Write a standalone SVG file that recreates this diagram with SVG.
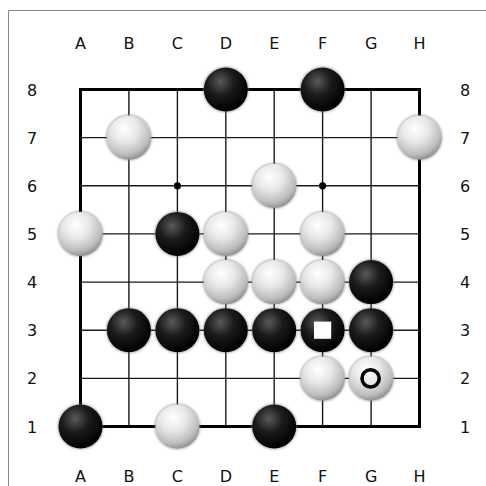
<svg xmlns="http://www.w3.org/2000/svg" width="486" height="486" viewBox="0 0 486 486">
<defs>
<radialGradient id="gb" cx="0.38" cy="0.32" r="0.68">
<stop offset="0" stop-color="#5a5a5a"/>
<stop offset="0.45" stop-color="#1c1c1c"/>
<stop offset="1" stop-color="#000"/>
</radialGradient>
<radialGradient id="gw" cx="0.4" cy="0.3" r="0.75">
<stop offset="0" stop-color="#ffffff"/>
<stop offset="0.4" stop-color="#e8e8e8"/>
<stop offset="0.78" stop-color="#bcbcbc"/>
<stop offset="1" stop-color="#858585"/>
</radialGradient>
<filter id="sh" x="-20%" y="-20%" width="140%" height="140%">
<feGaussianBlur stdDeviation="0.9"/>
</filter>
</defs>
<style>
.lbl{font-family:"DejaVu Sans","Liberation Sans",sans-serif;font-size:16px;fill:#111;text-anchor:middle}
.ln{stroke:#1a1a1a;stroke-width:1.4;fill:none}
.bd{stroke:#000;stroke-width:3;fill:none}
.halo{fill:#777;opacity:0.55;filter:url(#sh)}
.b{fill:url(#gb)}
.w{fill:url(#gw)}
</style>
<rect width="486" height="486" fill="#fff"/>
<path d="M8.5,486 V10.5 H486" stroke="#8a8a8a" stroke-width="1" fill="none"/>
<g id="labels">
<text class="lbl" x="80.5" y="49">A</text>
<text class="lbl" x="128.9" y="49">B</text>
<text class="lbl" x="177.4" y="49">C</text>
<text class="lbl" x="225.8" y="49">D</text>
<text class="lbl" x="274.2" y="49">E</text>
<text class="lbl" x="322.6" y="49">F</text>
<text class="lbl" x="371.1" y="49">G</text>
<text class="lbl" x="419.5" y="49">H</text>
<text class="lbl" x="80.5" y="481.5">A</text>
<text class="lbl" x="128.9" y="481.5">B</text>
<text class="lbl" x="177.4" y="481.5">C</text>
<text class="lbl" x="225.8" y="481.5">D</text>
<text class="lbl" x="274.2" y="481.5">E</text>
<text class="lbl" x="322.6" y="481.5">F</text>
<text class="lbl" x="371.1" y="481.5">G</text>
<text class="lbl" x="419.5" y="481.5">H</text>
<text class="lbl" x="32" y="95.5">8</text>
<text class="lbl" x="32" y="143.6">7</text>
<text class="lbl" x="32" y="191.8">6</text>
<text class="lbl" x="32" y="239.9">5</text>
<text class="lbl" x="32" y="288.1">4</text>
<text class="lbl" x="32" y="336.2">3</text>
<text class="lbl" x="32" y="384.4">2</text>
<text class="lbl" x="32" y="432.5">1</text>
<text class="lbl" x="465" y="95.5">8</text>
<text class="lbl" x="465" y="143.6">7</text>
<text class="lbl" x="465" y="191.8">6</text>
<text class="lbl" x="465" y="239.9">5</text>
<text class="lbl" x="465" y="288.1">4</text>
<text class="lbl" x="465" y="336.2">3</text>
<text class="lbl" x="465" y="384.4">2</text>
<text class="lbl" x="465" y="432.5">1</text>
</g>
<g id="connectors">
<path class="ln" d="M128.9,89.5V426.5M177.4,89.5V426.5M225.8,89.5V426.5M274.2,89.5V426.5M322.6,89.5V426.5M371.1,89.5V426.5"/>
<path class="ln" d="M80.5,137.6H419.5M80.5,185.8H419.5M80.5,233.9H419.5M80.5,282.1H419.5M80.5,330.2H419.5M80.5,378.4H419.5"/>
<rect class="bd" x="80.5" y="89.5" width="339" height="337"/>
<circle cx="177.4" cy="185.8" r="3.6" fill="#000"/>
<circle cx="322.6" cy="185.8" r="3.6" fill="#000"/>
</g>
<g id="D8"><circle class="halo" cx="225.8" cy="89.5" r="23"/><circle class="b" cx="225.8" cy="89.5" r="22"/></g>
<g id="F8"><circle class="halo" cx="322.6" cy="89.5" r="23"/><circle class="b" cx="322.6" cy="89.5" r="22"/></g>
<g id="B7"><circle class="halo" cx="128.9" cy="137.6" r="23"/><circle class="w" cx="128.9" cy="137.6" r="22"/></g>
<g id="H7"><circle class="halo" cx="419.5" cy="137.6" r="23"/><circle class="w" cx="419.5" cy="137.6" r="22"/></g>
<g id="E6"><circle class="halo" cx="274.2" cy="185.8" r="23"/><circle class="w" cx="274.2" cy="185.8" r="22"/></g>
<g id="A5"><circle class="halo" cx="80.5" cy="233.9" r="23"/><circle class="w" cx="80.5" cy="233.9" r="22"/></g>
<g id="C5"><circle class="halo" cx="177.4" cy="233.9" r="23"/><circle class="b" cx="177.4" cy="233.9" r="22"/></g>
<g id="D5"><circle class="halo" cx="225.8" cy="233.9" r="23"/><circle class="w" cx="225.8" cy="233.9" r="22"/></g>
<g id="F5"><circle class="halo" cx="322.6" cy="233.9" r="23"/><circle class="w" cx="322.6" cy="233.9" r="22"/></g>
<g id="D4"><circle class="halo" cx="225.8" cy="282.1" r="23"/><circle class="w" cx="225.8" cy="282.1" r="22"/></g>
<g id="E4"><circle class="halo" cx="274.2" cy="282.1" r="23"/><circle class="w" cx="274.2" cy="282.1" r="22"/></g>
<g id="F4"><circle class="halo" cx="322.6" cy="282.1" r="23"/><circle class="w" cx="322.6" cy="282.1" r="22"/></g>
<g id="G4"><circle class="halo" cx="371.1" cy="282.1" r="23"/><circle class="b" cx="371.1" cy="282.1" r="22"/></g>
<g id="B3"><circle class="halo" cx="128.9" cy="330.2" r="23"/><circle class="b" cx="128.9" cy="330.2" r="22"/></g>
<g id="C3"><circle class="halo" cx="177.4" cy="330.2" r="23"/><circle class="b" cx="177.4" cy="330.2" r="22"/></g>
<g id="D3"><circle class="halo" cx="225.8" cy="330.2" r="23"/><circle class="b" cx="225.8" cy="330.2" r="22"/></g>
<g id="E3"><circle class="halo" cx="274.2" cy="330.2" r="23"/><circle class="b" cx="274.2" cy="330.2" r="22"/></g>
<g id="F3"><circle class="halo" cx="322.6" cy="330.2" r="23"/><circle class="b" cx="322.6" cy="330.2" r="22"/><rect x="314" y="321.6" width="17.2" height="17.2" fill="#fff"/></g>
<g id="G3"><circle class="halo" cx="371.1" cy="330.2" r="23"/><circle class="b" cx="371.1" cy="330.2" r="22"/></g>
<g id="F2"><circle class="halo" cx="322.6" cy="378.4" r="23"/><circle class="w" cx="322.6" cy="378.4" r="22"/></g>
<g id="G2"><circle class="halo" cx="371.1" cy="378.4" r="23"/><circle class="w" cx="371.1" cy="378.4" r="22"/><circle cx="370.6" cy="378.4" r="8.6" fill="none" stroke="#000" stroke-width="3.6"/></g>
<g id="A1"><circle class="halo" cx="80.5" cy="426.5" r="23"/><circle class="b" cx="80.5" cy="426.5" r="22"/></g>
<g id="C1"><circle class="halo" cx="177.4" cy="426.5" r="23"/><circle class="w" cx="177.4" cy="426.5" r="22"/></g>
<g id="E1"><circle class="halo" cx="274.2" cy="426.5" r="23"/><circle class="b" cx="274.2" cy="426.5" r="22"/></g>
</svg>
